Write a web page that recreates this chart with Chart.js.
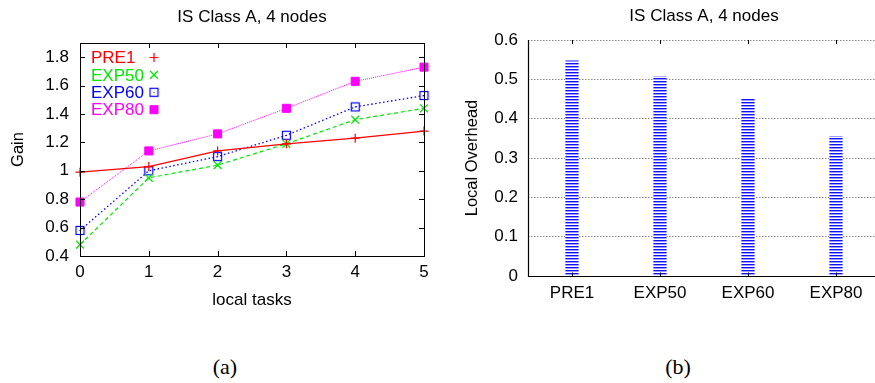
<!DOCTYPE html>
<html>
<head>
<meta charset="utf-8">
<script src="https://cdn.jsdelivr.net/npm/chart.js@4/dist/chart.umd.min.js"></script>
<style>
  html, body { margin: 0; padding: 0; background: #fff; width: 875px; height: 383px; overflow: hidden; position: relative; }
  #wa { position: absolute; left: 0; top: 0; }
  #wb { position: absolute; left: 440px; top: 0; }
  .cap { position: absolute; width: 100px; text-align: center; font-family: "Liberation Serif", "Times New Roman", serif; font-size: 22px; line-height: 22px; color: #000; }
</style>
</head>
<body>
<div id="wa" style="width:504px;height:320px"><canvas id="ca"></canvas></div>
<div id="wb" style="width:528px;height:320px"><canvas id="cb"></canvas></div>
<div class="cap" style="left:175px;top:356px">(a)</div>
<div class="cap" style="left:628px;top:356px">(b)</div>
<script>
// ---------- data ----------
const localTasks = ['0', '1', '2', '3', '4', '5'];
const pre1  = [0.99, 1.03, 1.14, 1.19, 1.23, 1.28];
const exp50 = [0.48, 0.95, 1.04, 1.19, 1.36, 1.44];
const exp60 = [0.58, 1.00, 1.10, 1.25, 1.45, 1.53];
const exp80 = [0.78, 1.14, 1.26, 1.44, 1.63, 1.73];
const gainTicks = [0.4, 0.6, 0.8, 1.0, 1.2, 1.4, 1.6, 1.8];

const methods = ['PRE1', 'EXP50', 'EXP60', 'EXP80'];
const overhead = [0.548, 0.508, 0.452, 0.356];
const overheadTicks = [0, 0.1, 0.2, 0.3, 0.4, 0.5, 0.6];

const titleText = 'IS Class A, 4 nodes';
const FONT = '"Liberation Sans", Arial, Helvetica, sans-serif';

Chart.defaults.font.family = FONT;
Chart.defaults.color = '#000';

function fmt(v) { return String(Math.round(v * 10) / 10); }

// open square with centre dot marker
function openSquare(color) {
  const c = document.createElement('canvas');
  c.width = 11; c.height = 11;
  const g = c.getContext('2d');
  g.strokeStyle = color; g.lineWidth = 1.2;
  g.strokeRect(1.5, 1.5, 8, 8);
  g.fillStyle = color;
  g.fillRect(5, 5, 1, 1);
  return c;
}

// striped bar fill
function stripes() {
  const c = document.createElement('canvas');
  c.width = 4; c.height = 3;
  const g = c.getContext('2d');
  g.fillStyle = '#1010ff'; g.fillRect(0, 0, 4, 1);
  g.fillStyle = '#9a9aff'; g.fillRect(0, 1, 4, 1);
  g.fillStyle = '#ffffff'; g.fillRect(0, 2, 4, 1);
  return g.createPattern(c, 'repeat');
}

const sq60 = openSquare('#0000ff');

// ---------- left chart ----------
const frameA = {
  id: 'frameA',
  afterDatasetsDraw(chart) {
    const ctx = chart.ctx, a = chart.chartArea;
    const xs = chart.scales.x, ys = chart.scales.y;
    ctx.save();
    ctx.strokeStyle = '#000'; ctx.lineWidth = 1; ctx.setLineDash([]);
    ctx.strokeRect(Math.round(a.left) + 0.5, Math.round(a.top) + 0.5, Math.round(a.right - a.left), Math.round(a.bottom - a.top));
    const L = 5;
    ctx.beginPath();
    ys.ticks.forEach(t => {
      const y = Math.round(ys.getPixelForValue(t.value)) + 0.5;
      ctx.moveTo(a.left, y); ctx.lineTo(a.left + L, y);
      ctx.moveTo(a.right, y); ctx.lineTo(a.right - L, y);
    });
    xs.ticks.forEach((t, i) => {
      const x = Math.round(xs.getPixelForTick(i)) + 0.5;
      ctx.moveTo(x, a.bottom); ctx.lineTo(x, a.bottom - L);
      ctx.moveTo(x, a.top); ctx.lineTo(x, a.top + L);
    });
    ctx.stroke();
    // key
    ctx.font = '17px ' + FONT;
    ctx.textBaseline = 'middle';
    ctx.textAlign = 'left';
    chart.data.datasets.forEach((ds, i) => {
      const y = 57.5 + i * 17.4;
      ctx.fillStyle = ds.borderColor;
      ctx.fillText(ds.label, 91, y + 1);
      const opts = { pointStyle: ds.pointStyle, radius: ds.pointRadius, borderWidth: ds.pointBorderWidth || 1, rotation: 0 };
      ctx.strokeStyle = ds.borderColor; ctx.fillStyle = ds.pointBackgroundColor;
      ctx.lineWidth = opts.borderWidth;
      Chart.helpers.drawPoint(ctx, opts, 154, y);
    });
    ctx.restore();
  }
};

new Chart(document.getElementById('ca'), {
  type: 'line',
  data: {
    labels: localTasks,
    datasets: [
      { label: 'PRE1', data: pre1, borderColor: '#ff0000', backgroundColor: '#ff0000', pointBackgroundColor: '#ff0000',
        borderWidth: 1.2, pointStyle: 'cross', pointRadius: 4.5, pointBorderWidth: 1.2, clip: false },
      { label: 'EXP50', data: exp50, borderColor: '#00e600', backgroundColor: '#00e600', pointBackgroundColor: '#00e600',
        borderWidth: 1.2, borderDash: [4, 3], pointStyle: 'crossRot', pointRadius: 5.5, pointBorderWidth: 1.2, clip: false },
      { label: 'EXP60', data: exp60, borderColor: '#0000ff', backgroundColor: '#0000ff', pointBackgroundColor: '#0000ff',
        borderWidth: 1.3, borderDash: [1.5, 2.5], pointStyle: sq60, pointRadius: 5.5, pointBorderWidth: 1, clip: false },
      { label: 'EXP80', data: exp80, borderColor: '#ff00ff', backgroundColor: '#ff00ff', pointBackgroundColor: '#ff00ff',
        borderWidth: 1, borderDash: [1, 1], pointStyle: 'rect', pointRadius: 5.7, pointBorderWidth: 1, clip: false }
    ]
  },
  options: {
    responsive: true, maintainAspectRatio: false, animation: false,
    layout: { padding: 0 },
    elements: { line: { tension: 0 } },
    plugins: {
      legend: { display: false },
      tooltip: { enabled: false },
      title: { display: true, text: titleText, font: { size: 17, weight: 'normal' }, color: '#000', padding: { top: 7, bottom: 15.6 } }
    },
    scales: {
      x: {
        type: 'category', offset: false,
        grid: { display: false, drawTicks: false },
        border: { display: false },
        ticks: { font: { size: 17 }, padding: 6, maxRotation: 0 },
        title: { display: true, text: 'local tasks', font: { size: 17 }, padding: { top: 0, bottom: 9.8 } },
        afterFit(s) { s.height = 64; }
      },
      y: {
        type: 'linear', min: 0.4, max: 1.9,
        grid: { display: false, drawTicks: false },
        border: { display: false },
        afterBuildTicks(s) { s.ticks = gainTicks.map(v => ({ value: v })); },
        ticks: { font: { size: 17 }, padding: 11, callback: v => fmt(v) },
        title: { display: true, text: 'Gain', font: { size: 16.5 }, padding: { top: 8.4, bottom: 0 } },
        afterFit(s) { s.width = 80; }
      },
      yR: {
        type: 'linear', position: 'right', min: 0, max: 1, display: true,
        grid: { display: false, drawTicks: false }, border: { display: false },
        ticks: { display: false },
        afterFit(s) { s.width = 80; }
      }
    }
  },
  plugins: [frameA]
});

// ---------- right chart ----------
const frameB = {
  id: 'frameB',
  afterDatasetsDraw(chart) {
    const ctx = chart.ctx, a = chart.chartArea;
    const xs = chart.scales.x;
    ctx.save();
    ctx.strokeStyle = '#000'; ctx.lineWidth = 1.2; ctx.setLineDash([]);
    ctx.beginPath();
    const l = Math.round(a.left) + 0.5, b = Math.round(a.bottom) + 0.5;
    ctx.moveTo(l, a.top); ctx.lineTo(l, b); ctx.lineTo(a.right + 10, b);
    ctx.stroke();
    ctx.lineWidth = 1;
    ctx.beginPath();
    const L = 4;
    xs.ticks.forEach((t, i) => {
      const x = Math.round(xs.getPixelForTick(i)) + 0.5;
      ctx.moveTo(x, b); ctx.lineTo(x, b - L);
      ctx.moveTo(x, a.top); ctx.lineTo(x, a.top + L);
    });
    ctx.stroke();
    ctx.restore();
  }
};

new Chart(document.getElementById('cb'), {
  type: 'bar',
  data: {
    labels: methods,
    datasets: [{ label: 'Local Overhead', data: overhead, backgroundColor: stripes(), borderWidth: 0,
                 barPercentage: 0.15, categoryPercentage: 1 }]
  },
  options: {
    responsive: true, maintainAspectRatio: false, animation: false,
    layout: { padding: 0 },
    plugins: {
      legend: { display: false },
      tooltip: { enabled: false },
      title: { display: true, text: titleText, font: { size: 17, weight: 'normal' }, color: '#000', padding: { top: 6, bottom: 13.6 } }
    },
    scales: {
      x: {
        type: 'category', offset: true,
        grid: { display: false, drawTicks: false },
        border: { display: false },
        ticks: { font: { size: 17 }, padding: 7, maxRotation: 0 },
        afterFit(s) { s.height = 44; }
      },
      y: {
        type: 'linear', min: 0, max: 0.6,
        grid: { display: true, drawTicks: false, color: '#8a8a8a', lineWidth: 1 },
        border: { display: false, dash: [1.5, 1.5] },
        afterBuildTicks(s) { s.ticks = overheadTicks.map(v => ({ value: v })); },
        ticks: { font: { size: 17 }, padding: 10, callback: v => fmt(v) },
        title: { display: true, text: 'Local Overhead', font: { size: 16.5 }, padding: { top: 22.1, bottom: 0 } },
        afterFit(s) { s.width = 88; }
      },
      yR: {
        type: 'linear', position: 'right', min: 0, max: 1, display: true,
        grid: { display: false, drawTicks: false }, border: { display: false },
        ticks: { display: false },
        afterFit(s) { s.width = 88; }
      }
    }
  },
  plugins: [frameB]
});
</script>
</body>
</html>
